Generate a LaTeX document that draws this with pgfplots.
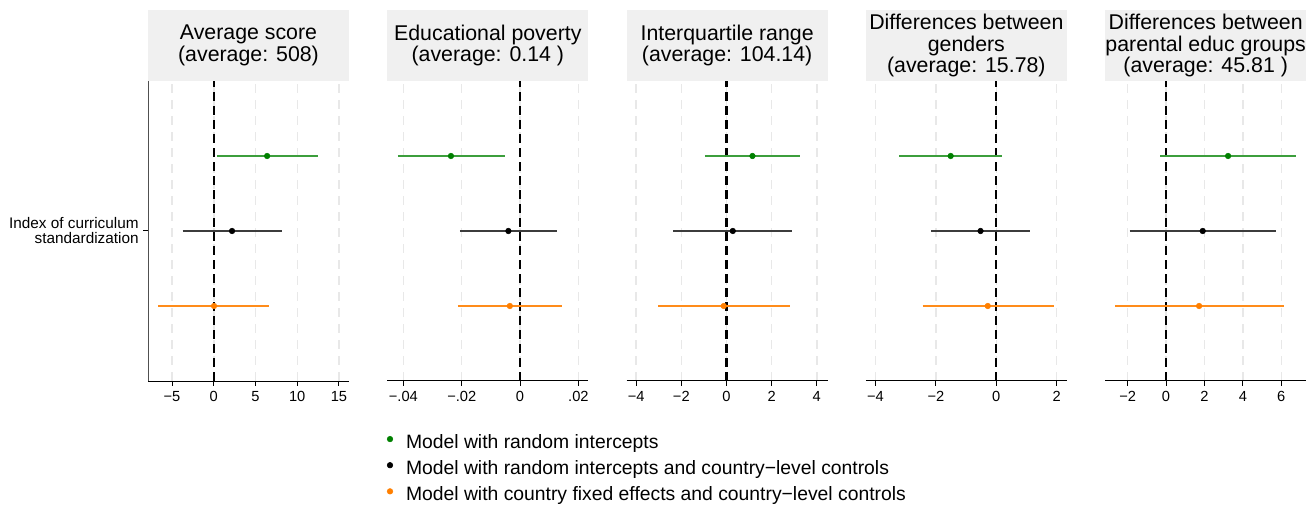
\documentclass[border=0pt]{standalone}
\usepackage{pgfplots}
\pgfplotsset{compat=1.18}
\usepackage{fontspec}
\setmainfont{Liberation Sans}
\definecolor{mgreen}{RGB}{0,128,0}
\definecolor{lgreen}{RGB}{60,158,60}
\definecolor{mgray}{RGB}{60,60,60}
\definecolor{morange}{RGB}{255,127,0}
\definecolor{lorange}{RGB}{255,140,26}
\definecolor{stripgray}{RGB}{240,240,240}
\definecolor{gridgray}{RGB}{232,232,232}
\definecolor{yaxgray}{RGB}{80,80,80}

\pgfplotsset{
  panel/.style={
    scale only axis, width=150.75pt, height=225pt,
    ymin=0, ymax=4, clip=false,
    axis x line*=bottom,
    x axis line style={black, line width=0.75pt},
    tick align=outside, major tick length=3.5pt,
    tick style={black, line width=0.75pt},
    xmajorgrids, major grid style={gridgray, line width=1.1pt, dash pattern=on 7pt off 5pt},
    xticklabel style={font=\fontsize{11}{13}\selectfont, inner sep=1pt, yshift=-3pt},
    scaled x ticks=false,
    anchor=south west,
  },
  noy/.style={axis y line=none, ytick=\empty},
  ci/.style={forget plot, line width=1pt, no marks},
  pt/.style={only marks, mark=*, mark size=2.1pt},
  zero/.style={forget plot, black, line width=1.6pt, dash pattern=on 7pt off 3.5pt, no marks},
}
\newcommand{\strip}[1]{%
  \fill[stripgray] (rel axis cs:0,1) rectangle ([yshift=53.25pt]rel axis cs:1,1);
  \node[font=\fontsize{16}{16}\selectfont, align=center] at ([yshift=26.6pt]rel axis cs:0.5,1) {#1};
}

\begin{document}
\begin{tikzpicture}
\useasboundingbox (0,0) rectangle (986.25pt,378pt);

% Panel 1
\begin{axis}[panel, at={(111pt,92.25pt)},
  xmin=-7.88, xmax=16.2,
  xtick={-5,0,5,10,15}, xticklabels={−5,0,5,10,15},
  axis y line*=left,
  y axis line style={yaxgray, line width=0.75pt},
  ytick={2}, yticklabels={{Index of curriculum\\standardization}},
  yticklabel style={font=\fontsize{11.5}{11.25}\selectfont, align=right},
  legend style={at={(axis description cs:1.1841,-0.1758)}, anchor=north west,
    draw=none, fill=none, inner sep=0pt, outer sep=0pt,
    font=\fontsize{14.5}{16}\selectfont, row sep=5.6pt, column sep=9pt,
    nodes={inner sep=0pt, text height=9pt, text depth=3pt}},
  legend cell align=left,
  legend image code/.code={\draw[#1] plot coordinates {(3pt,4pt)}; \path[draw=none,fill=none] (0pt,0pt) rectangle (6pt,8pt);},
]
\strip{Average score\\(average: 508)}
\addplot[zero] coordinates {(0,0) (0,4)};
\addplot[ci, lgreen] coordinates {(0.36,3) (12.47,3)};
\addplot[ci, mgray] coordinates {(-3.72,2) (8.15,2)};
\addplot[ci, lorange] coordinates {(-6.64,1) (6.63,1)};
\addplot[pt, mgreen] coordinates {(6.39,3)};
\addlegendentry{Model with random intercepts}
\addplot[pt, black] coordinates {(2.19,2)};
\addlegendentry{Model with random intercepts and country−level controls}
\addplot[pt, morange] coordinates {(0.03,1)};
\addlegendentry{Model with country fixed effects and country−level controls}
\end{axis}

% Panel 2
\begin{axis}[panel, noy, at={(290.5pt,92.25pt)},
  xmin=-0.0455, xmax=0.0234,
  xtick={-0.04,-0.02,0,0.02}, xticklabels={−.04,−.02,0,.02},
]
\strip{Educational poverty\\(average: 0.14 )}
\addplot[zero] coordinates {(0,0) (0,4)};
\addplot[ci, lgreen] coordinates {(-0.0419,3) (-0.0051,3)};
\addplot[ci, mgray] coordinates {(-0.0206,2) (0.0127,2)};
\addplot[ci, lorange] coordinates {(-0.0213,1) (0.0142,1)};
\addplot[pt, mgreen] coordinates {(-0.0237,3)};
\addplot[pt, black] coordinates {(-0.0040,2)};
\addplot[pt, morange] coordinates {(-0.0035,1)};
\end{axis}

% Panel 3
\begin{axis}[panel, noy, at={(470pt,92.25pt)},
  xmin=-4.42, xmax=4.48,
  xtick={-4,-2,0,2,4}, xticklabels={−4,−2,0,2,4},
]
\strip{Interquartile range\\(average: 104.14)}
\addplot[zero] coordinates {(0,0) (0,4)};
\addplot[ci, lgreen] coordinates {(-0.96,3) (3.26,3)};
\addplot[ci, mgray] coordinates {(-2.36,2) (2.92,2)};
\addplot[ci, lorange] coordinates {(-3.03,1) (2.81,1)};
\addplot[pt, mgreen] coordinates {(1.15,3)};
\addplot[pt, black] coordinates {(0.28,2)};
\addplot[pt, morange] coordinates {(-0.12,1)};
\end{axis}

% Panel 4
\begin{axis}[panel, noy, at={(649.4pt,92.25pt)},
  xmin=-4.32, xmax=2.34,
  xtick={-4,-2,0,2}, xticklabels={−4,−2,0,2},
]
\strip{Differences between\\genders\\(average: 15.78)}
\addplot[zero] coordinates {(0,0) (0,4)};
\addplot[ci, lgreen] coordinates {(-3.21,3) (0.20,3)};
\addplot[ci, mgray] coordinates {(-2.15,2) (1.13,2)};
\addplot[ci, lorange] coordinates {(-2.44,1) (1.91,1)};
\addplot[pt, mgreen] coordinates {(-1.51,3)};
\addplot[pt, black] coordinates {(-0.52,2)};
\addplot[pt, morange] coordinates {(-0.28,1)};
\end{axis}

% Panel 5
\begin{axis}[panel, noy, at={(828.9pt,92.25pt)},
  xmin=-3.17, xmax=7.30,
  xtick={-2,0,2,4,6}, xticklabels={−2,0,2,4,6},
]
\strip{Differences between\\parental educ groups\\(average: 45.81 )}
\addplot[zero] coordinates {(0,0) (0,4)};
\addplot[ci, lgreen] coordinates {(-0.30,3) (6.78,3)};
\addplot[ci, mgray] coordinates {(-1.90,2) (5.74,2)};
\addplot[ci, lorange] coordinates {(-2.64,1) (6.12,1)};
\addplot[pt, mgreen] coordinates {(3.23,3)};
\addplot[pt, black] coordinates {(1.91,2)};
\addplot[pt, morange] coordinates {(1.72,1)};
\end{axis}
\end{tikzpicture}
\end{document}
